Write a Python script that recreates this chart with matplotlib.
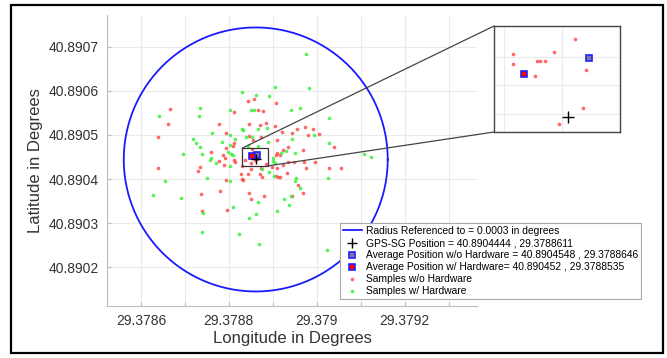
import numpy as np
import matplotlib.pyplot as plt
from matplotlib.patches import Rectangle, ConnectionPatch

plt.rcParams['font.family'] = ['Liberation Sans', 'DejaVu Sans']

# reference position and averages (lat, lon)
gps_lat, gps_lon = 40.8904444, 29.3788611
wo_lat, wo_lon = 40.8904548, 29.3788646
w_lat, w_lon = 40.890452, 29.3788535
radius = 0.0003

# samples without hardware (red)
red_lon = [29.3786666, 29.3788107, 29.3786614, 29.3787773, 29.3788561, 29.3788439, 29.3789068,
           29.3788652, 29.378878, 29.3788461, 29.3788698, 29.3788834, 29.3789727, 29.3789545,
           29.3789916, 29.3789052, 29.3786393, 29.3787932, 29.3788107, 29.3788091, 29.3787932,
           29.3787584, 29.378787, 29.3787909, 29.3787766, 29.3788114, 29.3788143, 29.3786386,
           29.3787348, 29.3787289, 29.3787886, 29.3787932, 29.3788289, 29.3787802, 29.3787364,
           29.3787948, 29.378738, 29.3788461, 29.3789091, 29.3789425, 29.3789211, 29.3789789,
           29.3790045, 29.3790393, 29.3789348, 29.3789098, 29.3789061, 29.3789152, 29.3789689,
           29.378853, 29.3788364, 29.3788493, 29.3789334, 29.3789484, 29.3789711, 29.3789955,
           29.3788727, 29.3788834, 29.3789091, 29.378897, 29.378975, 29.3790273, 29.3790545,
           29.3789311, 29.37885, 29.3788743, 29.3789068, 29.378912, 29.3789159, 29.3789575,
           29.3789675, 29.3788461, 29.3788493, 29.3788802, 29.3789432, 29.3788539, 29.378872,
           29.3788302, 29.3788266, 29.3788439, 29.3788705, 29.3788325, 29.3789234, 29.378922,
           # close to the reference (inset)
           29.3788622, 29.3788516, 29.3788586, 29.3788516, 29.3788557, 29.3788562, 29.378857,
           29.3788641, 29.3788553, 29.3788636, 29.3788595]
red_lat = [40.8905591, 40.8905523, 40.8905243, 40.8905243, 40.8905811, 40.8905766, 40.8905727,
           40.8905561, 40.8905545, 40.8905257, 40.8905234, 40.890528, 40.8905189, 40.8905143,
           40.8905143, 40.8905198, 40.8904948, 40.8905052, 40.8904811, 40.8904757, 40.8904698,
           40.8904614, 40.8904539, 40.8904477, 40.8904416, 40.8904432, 40.8904386, 40.8904243,
           40.890428, 40.8904189, 40.8904311, 40.8903984, 40.8903993, 40.8903727, 40.8903652,
           40.8903289, 40.8903266, 40.8904977, 40.8904886, 40.8905052, 40.8905075, 40.8905,
           40.8905023, 40.8904734, 40.8904734, 40.8904598, 40.8904552, 40.8904552, 40.8904659,
           40.8904675, 40.8904432, 40.8904357, 40.890438, 40.890438, 40.890438, 40.8904393,
           40.8904257, 40.8904334, 40.8904257, 40.8904266, 40.8904257, 40.8904243, 40.8904243,
           40.8904143, 40.8904227, 40.8904052, 40.8904075, 40.8904052, 40.8904052, 40.8903864,
           40.8903689, 40.8903675, 40.8903545, 40.8903614, 40.890362, 40.8904886, 40.8904961,
           40.8904302, 40.8904107, 40.8904107, 40.8904114, 40.8903977, 40.8904318, 40.8904659,
           40.8904581, 40.8904555, 40.8904558, 40.8904537, 40.8904543, 40.8904542, 40.8904543,
           40.8904527, 40.8904516, 40.890446, 40.8904432]

# samples with hardware (green)
green_lon = [29.3788289, 29.3787334, 29.3786402, 29.3787311, 29.378803, 29.3788289, 29.378975,
             29.3789052, 29.3789818, 29.3788607, 29.3788916, 29.3788493, 29.3788561, 29.3789607,
             29.3789416, 29.3790266, 29.3788652, 29.3788864, 29.3787607, 29.3788016, 29.3787175,
             29.3787243, 29.3787334, 29.3787848, 29.3788136, 29.3788016, 29.3786955, 29.3787393,
             29.3787984, 29.3788039, 29.3788084, 29.3787598, 29.3787561, 29.3788016, 29.3786552,
             29.37875, 29.378803, 29.3786266, 29.3786909, 29.3788091, 29.3787402, 29.3788386,
             29.378853, 29.3789439, 29.3789939, 29.3790273, 29.3788666, 29.3788439, 29.3789295,
             29.3789182, 29.37895, 29.3789007, 29.3789045, 29.3789007, 29.3791073, 29.3791225,
             29.3788916, 29.3788743, 29.378903, 29.3790257, 29.3789516, 29.37895, 29.3789416,
             29.3789257, 29.3788652, 29.378937, 29.3789098, 29.3788607, 29.3787393, 29.3788234,
             29.3788461, 29.3788682, 29.379022, 29.3789614, 29.3788325, 29.3788893, 29.3787705]
green_lat = [40.890597, 40.8905614, 40.8905425, 40.8905439, 40.8905568, 40.890513, 40.8906848,
             40.8906091, 40.8906075, 40.8905916, 40.8905893, 40.8905568, 40.8905568, 40.890562,
             40.8905568, 40.8905393, 40.8905143, 40.8905159, 40.8905039, 40.8905007, 40.8904902,
             40.8904811, 40.8904734, 40.8904848, 40.8904902, 40.890478, 40.8904575, 40.8904568,
             40.8904614, 40.8904568, 40.8904545, 40.8904484, 40.8904425, 40.8904302, 40.8903955,
             40.8904016, 40.8903961, 40.890363, 40.8903561, 40.890337, 40.890322, 40.8904961,
             40.8904961, 40.8904902, 40.8905, 40.8904825, 40.890475, 40.890475, 40.8904643,
             40.8904584, 40.8904598, 40.890447, 40.890437, 40.8904416, 40.8904561, 40.8904507,
             40.8904166, 40.890422, 40.8904075, 40.890403, 40.8904016, 40.8903961, 40.8903614,
             40.8903539, 40.890347, 40.8903402, 40.8903273, 40.8903198, 40.8902802, 40.8902757,
             40.8903107, 40.8902516, 40.890238, 40.8903789, 40.8905114, 40.8904848, 40.890437]

red_c = '#ff4d4d'
green_c = '#3df03d'


def draw_points(ax, ms_dot, ms_sq, ms_cross):
    ax.plot(red_lon, red_lat, 'o', ms=ms_dot, mfc=red_c, mec='none', alpha=0.85,
            label='Samples w/o Hardware', zorder=3)
    ax.plot(green_lon, green_lat, 'o', ms=ms_dot, mfc=green_c, mec='none', alpha=0.85,
            label='Samples w/ Hardware', zorder=3)
    ax.plot(gps_lon, gps_lat, '+', ms=ms_cross, color='black', mew=1.0,
            label=f'GPS-SG Position = {gps_lat} , {gps_lon}', zorder=6)
    ax.plot(wo_lon, wo_lat, 's', ms=ms_sq, mfc='#7a7a9a', mec='#2020ff', mew=1.2,
            label=f'Average Position w/o Hardware = {wo_lat} , {wo_lon}', zorder=5)
    ax.plot(w_lon, w_lat, 's', ms=ms_sq, mfc='red', mec='#2020ff', mew=1.2,
            label=f'Average Position w/ Hardware= {w_lat} , {w_lon}', zorder=5)


fig = plt.figure(figsize=(6.67, 3.58), dpi=100)
ax = fig.add_axes([107 / 667, 1 - 306 / 358, 370 / 667, 291 / 358])

t = np.linspace(0, 2 * np.pi, 400)
circ, = ax.plot(gps_lon + radius * np.cos(t), gps_lat + radius * np.sin(t), color='#1a1aff',
                lw=1.3, label='Radius Referenced to = 0.0003 in degrees', zorder=2)
draw_points(ax, 2.6, 4.5, 7)

ax.set_xlim(29.378523, 29.379364)
ax.set_ylim(40.8901114, 40.8907727)
xt = [29.3786, 29.3787, 29.3788, 29.3789, 29.379, 29.3791, 29.3792, 29.3793]
ax.set_xticks(xt)
ax.set_xticklabels(['29.3786', '', '29.3788', '', '29.379', '', '29.3792', ''])
yt = [40.8902, 40.8903, 40.8904, 40.8905, 40.8906, 40.8907]
ax.set_yticks(yt)
ax.set_yticklabels([f'{v:.4f}' for v in yt])
ax.grid(True, color='#ebebeb', lw=0.8)
ax.set_axisbelow(True)
for s in ['top', 'right']:
    ax.spines[s].set_visible(False)
for s in ['left', 'bottom']:
    ax.spines[s].set_color('#bdbdbd')
ax.tick_params(direction='in', length=3, color='#bdbdbd', labelsize=10, labelcolor='#333333', pad=6)
ax.set_xlabel('Longitude in Degrees', fontsize=12, color='#333333', labelpad=2)
ax.set_ylabel('Latitude in Degrees', fontsize=12, color='#333333', labelpad=4)

# zoom rectangle on main plot
rx0, rx1, ry0, ry1 = 29.37883, 29.37889, 40.89043, 40.89047
ax.add_patch(Rectangle((rx0, ry0), rx1 - rx0, ry1 - ry0, fill=False, ec='#333333', lw=0.9, zorder=7))

# inset
axin = fig.add_axes([494 / 667, 1 - 132 / 358, 126 / 667, 106 / 358])
draw_points(axin, 2.6, 5, 9)
axin.set_xlim(29.3788483, 29.37887)
axin.set_ylim(40.8904418, 40.8904604)
axin.set_xticks([29.37885, 29.37886])
axin.set_yticks([40.890445, 40.89045, 40.890455])
axin.tick_params(length=0, labelbottom=False, labelleft=False)
axin.grid(True, color='#ebebeb', lw=0.8)
axin.set_axisbelow(True)
for s in axin.spines.values():
    s.set_color('#444444')
    s.set_linewidth(1.0)

for xa, ya, xb, yb in [(rx0, ry1, 0, 1), (rx1, ry0, 0, 0)]:
    con = ConnectionPatch(xyA=(xa, ya), coordsA=ax.transData, xyB=(xb, yb), coordsB=axin.transAxes,
                          color='#444444', lw=0.9)
    fig.add_artist(con)

handles, labels = ax.get_legend_handles_labels()
order = [0, 3, 4, 5, 1, 2]
leg = fig.legend([handles[i] for i in order], [labels[i] for i in order],
                 loc='upper left', bbox_to_anchor=(340 / 667, 1 - 223 / 358), fontsize=7.4,
                 frameon=True, fancybox=False, edgecolor='#aaaaaa', framealpha=1,
                 borderpad=0.3, labelspacing=0.2, handlelength=1.8, handletextpad=0.4,
                 borderaxespad=0)
leg.get_frame().set_linewidth(0.8)

# outer frame
fig.add_artist(Rectangle((11 / 667, 1 - 353 / 358), 652 / 667, 348 / 358, transform=fig.transFigure,
                         fill=False, ec='black', lw=1.6))

fig.savefig('out.png', dpi=100)
